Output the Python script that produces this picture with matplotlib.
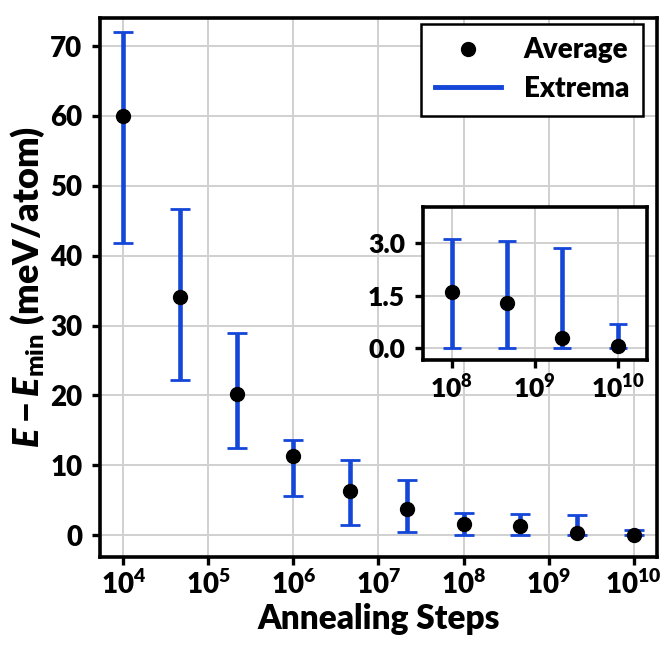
import matplotlib
matplotlib.use("Agg")
import matplotlib.pyplot as plt
from matplotlib.lines import Line2D

plt.rcParams["font.family"] = ["Lato", "DejaVu Sans"]
plt.rcParams["font.weight"] = "heavy"
plt.rcParams["mathtext.fontset"] = "custom"
plt.rcParams["mathtext.rm"] = "Lato:heavy"
plt.rcParams["mathtext.it"] = "Lato:heavy:italic"
plt.rcParams["mathtext.bf"] = "Lato:heavy"

# annealing steps (2/3 decade apart)
steps = [1e4, 4.64e4, 2.15e5, 1e6, 4.64e6, 2.15e7, 1e8, 4.64e8, 2.15e9, 1e10]
avg = [60.0, 34.1, 20.2, 11.3, 6.3, 3.8, 1.6, 1.28, 0.28, 0.06]
emin = [41.8, 22.2, 12.5, 5.6, 1.5, 0.5, 0.0, 0.0, 0.0, 0.0]
emax = [72.0, 46.7, 28.9, 13.6, 10.8, 7.9, 3.12, 3.06, 2.85, 0.68]

BLUE = "#1446d8"

fig = plt.figure(figsize=(6.64, 6.49), dpi=100)
ax = fig.add_axes([0.151, 0.142, 0.838, 0.830])


def draw(a, xs, m, lo, hi, lw, cap, ms):
    yerr = [[mi - l for mi, l in zip(m, lo)], [h - mi for mi, h in zip(m, hi)]]
    a.errorbar(xs, m, yerr=yerr, fmt="none", ecolor=BLUE, elinewidth=lw,
               capsize=cap, capthick=2.0, zorder=3)
    a.plot(xs, m, "o", color="black", ms=ms, zorder=4)
    a.set_xscale("log")
    a.grid(True, color="#d0d0d0", lw=1.4)
    a.set_axisbelow(True)
    for s in a.spines.values():
        s.set_linewidth(2.6)
    a.tick_params(width=2.4, length=6, direction="out")
    a.tick_params(axis="y", pad=7)
    a.minorticks_off()


draw(ax, steps, avg, emin, emax, 3.3, 7, 10)
ax.set_xlim(10 ** 3.73, 10 ** 10.27)
ax.set_ylim(-3.1, 74)
ax.set_xticks([10.0 ** k for k in range(4, 11)])
ax.set_yticks(range(0, 71, 10))
ax.tick_params(labelsize=20)
ax.set_xlabel("Annealing Steps", fontsize=24, fontweight="heavy", labelpad=3)
ax.set_ylabel(r"$E-E_{\mathrm{min}}$ (meV/atom)", fontsize=26, fontweight="heavy",
              labelpad=2)

handles = [Line2D([], [], marker="o", color="black", ls="none", ms=10),
           Line2D([], [], color=BLUE, lw=3.5)]
leg = ax.legend(handles, ["Average", "Extrema"], loc="upper right", fontsize=20,
                fancybox=False, framealpha=1, edgecolor="black",
                borderpad=0.5, labelspacing=0.45, handlelength=2.4,
                borderaxespad=0, bbox_to_anchor=(0.975, 0.99))
leg.get_frame().set_linewidth(1.8)

# inset with the last four points
ins = fig.add_axes([0.637, 0.445, 0.337, 0.236])
draw(ins, steps[6:], avg[6:], emin[6:], emax[6:], 3.3, 6.5, 10)
ins.set_xlim(10 ** 7.65, 10 ** 10.35)
ins.set_ylim(-0.35, 4.03)
ins.set_xticks([1e8, 1e9, 1e10])
ins.set_yticks([0.0, 1.5, 3.0])
ins.set_yticklabels(["0.0", "1.5", "3.0"])
ins.tick_params(labelsize=19)

fig.savefig("out.png", dpi=100)
